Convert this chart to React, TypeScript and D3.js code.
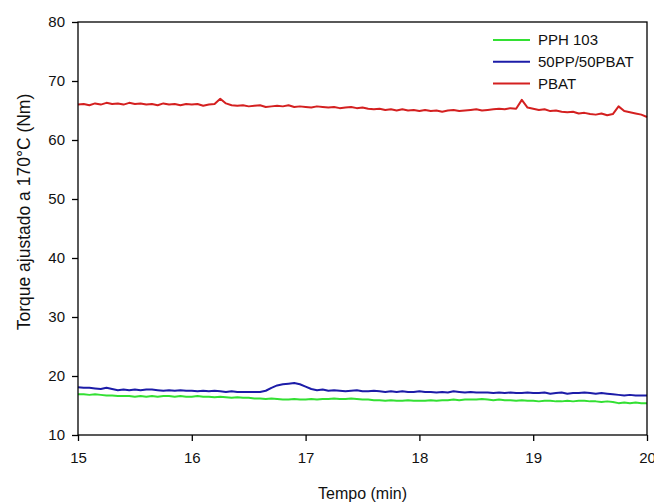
import React, { useRef, useEffect } from "react";
import * as d3 from "d3";

// time axis, 0.05 min steps from 15 to 20
const tempo = d3.range(0, 101).map((i) => 15 + i * 0.05);

const pbat = [
  66.0, 66.1, 65.9, 66.2, 66.0, 66.3, 66.1, 66.2, 66.0, 66.3, 66.1, 66.2, 66.0, 66.1, 65.9, 66.2, 66.0, 66.1, 65.9, 66.1,
  66.0, 66.1, 65.8, 66.0, 66.1, 67.0, 66.2, 65.9, 65.8, 65.9, 65.7, 65.8, 65.9, 65.6, 65.7, 65.8, 65.7, 65.9, 65.6, 65.7,
  65.6, 65.5, 65.7, 65.6, 65.5, 65.6, 65.4, 65.5, 65.6, 65.4, 65.5, 65.3, 65.2, 65.3, 65.1, 65.2, 65.0, 65.2, 65.0, 65.1,
  64.9, 65.1, 64.9, 65.0, 64.8, 65.0, 65.1, 64.9, 65.0, 65.1, 65.2, 65.0, 65.1, 65.2, 65.3, 65.2, 65.4, 65.3, 66.8, 65.5,
  65.3, 65.1, 65.2, 64.9, 65.0, 64.8, 64.7, 64.8, 64.5, 64.6, 64.4, 64.3, 64.5, 64.2, 64.4, 65.7, 64.9, 64.7, 64.5, 64.3,
  63.9,
];

const blend = [
  18.1, 18.0, 18.0, 17.9, 17.8, 18.0, 17.8, 17.6, 17.7, 17.6, 17.7, 17.6, 17.7, 17.7, 17.6, 17.5, 17.6, 17.5, 17.6, 17.5,
  17.5, 17.4, 17.5, 17.4, 17.5, 17.4, 17.3, 17.4, 17.3, 17.3, 17.3, 17.3, 17.3, 17.5, 18.0, 18.4, 18.6, 18.7, 18.8, 18.6,
  18.2, 17.8, 17.6, 17.7, 17.5, 17.6, 17.5, 17.4, 17.5, 17.6, 17.4, 17.4, 17.5, 17.4, 17.3, 17.4, 17.3, 17.4, 17.3, 17.3,
  17.4, 17.3, 17.3, 17.2, 17.3, 17.2, 17.4, 17.3, 17.2, 17.3, 17.2, 17.2, 17.2, 17.1, 17.2, 17.1, 17.2, 17.1, 17.1, 17.2,
  17.1, 17.1, 17.2, 17.0, 17.1, 17.2, 17.0, 17.1, 17.1, 17.2, 17.1, 17.0, 17.1, 17.0, 16.9, 16.8, 16.7, 16.8, 16.7, 16.7,
  16.7,
];

const pph = [
  16.9, 16.9, 16.8, 16.9, 16.8, 16.7, 16.7, 16.6, 16.6, 16.6, 16.5, 16.6, 16.5, 16.6, 16.5, 16.6, 16.6, 16.5, 16.6, 16.5,
  16.5, 16.6, 16.5, 16.5, 16.4, 16.5, 16.4, 16.3, 16.4, 16.3, 16.3, 16.2, 16.2, 16.1, 16.2, 16.1, 16.0, 16.0, 16.1, 16.0,
  16.0, 16.1, 16.0, 16.1, 16.1, 16.2, 16.1, 16.1, 16.2, 16.1, 16.0, 16.0, 15.9, 15.9, 15.8, 15.9, 15.8, 15.8, 15.9, 15.8,
  15.8, 15.8, 15.9, 15.8, 15.9, 15.9, 16.0, 15.9, 16.0, 16.0, 16.0, 16.1, 16.0, 15.9, 16.0, 15.9, 15.9, 15.8, 15.9, 15.8,
  15.8, 15.7, 15.8, 15.8, 15.7, 15.7, 15.8, 15.7, 15.8, 15.8, 15.7, 15.7, 15.6, 15.7, 15.6, 15.4, 15.5, 15.4, 15.5, 15.4,
  15.4,
];

const seriesNames = ["PPH 103", "50PP/50PBAT", "PBAT"];
const seriesColors = ["#33e033", "#1c1ca8", "#d42020"];
const xTicks = [15, 16, 17, 18, 19, 20];
const yTicks = [10, 20, 30, 40, 50, 60, 70, 80];

const App = () => {
  const svgRef = useRef<SVGSVGElement>(null);

  useEffect(() => {
    const svg = d3.select(svgRef.current);
    svg.selectAll("*").remove();

    const width = 654;
    const height = 502;
    const m = { left: 78, right: 7, top: 22, bottom: 67 };
    const font = "Arial, 'Liberation Sans', sans-serif";

    const x = d3.scaleLinear().domain([15, 20]).range([m.left, width - m.right]);
    const y = d3.scaleLinear().domain([10, 80]).range([height - m.bottom, m.top]);

    svg.append("rect").attr("width", width).attr("height", height).attr("fill", "#fff");

    const line = d3
      .line<number>()
      .x((d, i) => x(tempo[i]))
      .y((d) => y(d));

    [pph, blend, pbat].forEach((vals, k) => {
      svg
        .append("path")
        .datum(vals)
        .attr("d", line)
        .attr("fill", "none")
        .attr("stroke", seriesColors[k])
        .attr("stroke-width", 2)
        .attr("stroke-linejoin", "round");
    });

    // frame
    svg
      .append("rect")
      .attr("x", x(15))
      .attr("y", y(80))
      .attr("width", x(20) - x(15))
      .attr("height", y(10) - y(80))
      .attr("fill", "none")
      .attr("stroke", "#000")
      .attr("stroke-width", 1.3);

    const xAxis = svg
      .append("g")
      .attr("transform", `translate(0,${y(10)})`)
      .call(d3.axisBottom(x).tickValues(xTicks).tickSize(6).tickPadding(11).tickFormat(d3.format("d")));
    const yAxis = svg
      .append("g")
      .attr("transform", `translate(${x(15)},0)`)
      .call(d3.axisLeft(y).tickValues(yTicks).tickSize(6).tickPadding(7).tickFormat(d3.format("d")));

    [xAxis, yAxis].forEach((g) => {
      g.select(".domain").remove();
      g.selectAll("line").attr("stroke", "#000").attr("stroke-width", 1.3);
      g.selectAll("text").attr("font-family", font).attr("font-size", 15).attr("fill", "#111");
    });

    svg
      .append("text")
      .attr("x", (x(15) + x(20)) / 2)
      .attr("y", 499)
      .attr("text-anchor", "middle")
      .attr("font-family", font)
      .attr("font-size", 16)
      .attr("fill", "#111")
      .text("Tempo (min)");

    svg
      .append("text")
      .attr("transform", `translate(30,212) rotate(-90)`)
      .attr("text-anchor", "middle")
      .attr("font-family", font)
      .attr("font-size", 17.5)
      .attr("fill", "#111")
      .text("Torque ajustado a 170°C (Nm)");

    const legend = svg.append("g").attr("transform", "translate(493,40)");
    seriesNames.forEach((name, k) => {
      const row = legend.append("g").attr("transform", `translate(0,${k * 21.7})`);
      row
        .append("line")
        .attr("x1", 0)
        .attr("x2", 37)
        .attr("stroke", seriesColors[k])
        .attr("stroke-width", 2);
      row
        .append("text")
        .attr("x", 45)
        .attr("dy", "0.35em")
        .attr("font-family", font)
        .attr("font-size", 15)
        .attr("fill", "#111")
        .text(name);
    });
  }, []);

  return (
    <svg
      ref={svgRef}
      width={654}
      height={502}
      style={{ position: "absolute", left: 0, top: 0, display: "block" }}
    />
  );
};

export default App;
